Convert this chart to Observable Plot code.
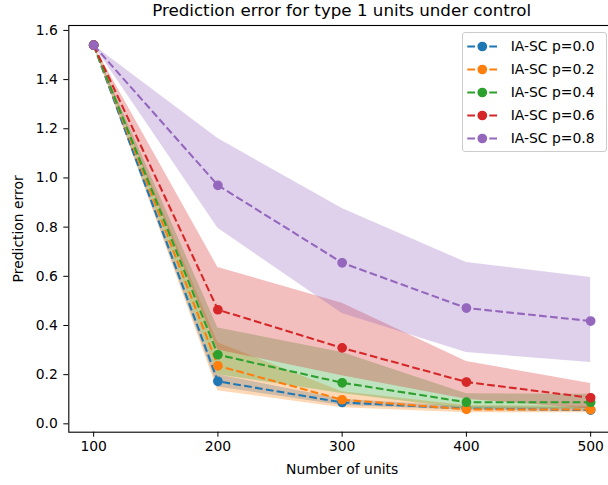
<!DOCTYPE html>
<html>
<head>
<meta charset="utf-8">
<script src="https://cdn.jsdelivr.net/npm/d3@7"></script>
<script src="https://cdn.jsdelivr.net/npm/@observablehq/plot@0.6"></script>
<style>
  html, body { margin: 0; padding: 0; background: #fff; }
  body { width: 608px; height: 485px; overflow: hidden; position: relative; font-family: "DejaVu Sans", sans-serif; color: #000; }
  #title { box-sizing: border-box; width: 608px; height: 20px; padding-left: 75.4px; text-align: center; font-size: 16.7px; line-height: 21px; white-space: nowrap; }
  #legend { position: absolute; left: 461.7px; top: 31.7px; width: 145px; height: 120px; box-sizing: border-box; border: 1px solid #cccccc; border-radius: 3px; background: rgba(255,255,255,0.8); }
  .lrow { position: absolute; left: 0; height: 23px; width: 145px; }
  .lrow svg { position: absolute; left: 0; top: 0; }
  .lrow span { position: absolute; left: 48px; top: 0; line-height: 23px; font-size: 13.9px; white-space: nowrap; }
</style>
</head>
<body>
<div id="title">Prediction error for type 1 units under control</div>
<div id="chart"></div>
<div id="legend"></div>
<script>
// ---- data ----
const units = [100, 200, 300, 400, 500];
const xTicks = [100, 200, 300, 400, 500];
const yTicks = [0.0, 0.2, 0.4, 0.6, 0.8, 1.0, 1.2, 1.4, 1.6];
const seriesLabels = ["IA-SC p=0.0", "IA-SC p=0.2", "IA-SC p=0.4", "IA-SC p=0.6", "IA-SC p=0.8"];
const seriesColors = ["#1f77b4", "#ff7f0e", "#2ca02c", "#d62728", "#9467bd"];

const meanP00 = [1.54, 0.173, 0.087, 0.062, 0.056];
const meanP02 = [1.54, 0.236, 0.098, 0.059, 0.058];
const meanP04 = [1.54, 0.281, 0.167, 0.088, 0.088];
const meanP06 = [1.54, 0.464, 0.309, 0.170, 0.106];
const meanP08 = [1.54, 0.970, 0.655, 0.471, 0.418];

const loP00 = [1.54, 0.150, 0.075, 0.055, 0.050];
const hiP00 = [1.54, 0.200, 0.100, 0.070, 0.065];
const loP02 = [1.54, 0.135, 0.065, 0.045, 0.045];
const hiP02 = [1.54, 0.330, 0.130, 0.075, 0.072];
const loP04 = [1.54, 0.200, 0.123, 0.060, 0.060];
const hiP04 = [1.54, 0.390, 0.290, 0.122, 0.120];
const loP06 = [1.54, 0.300, 0.196, 0.100, 0.060];
const hiP06 = [1.54, 0.636, 0.490, 0.254, 0.164];
const loP08 = [1.54, 0.795, 0.449, 0.290, 0.249];
const hiP08 = [1.54, 1.160, 0.876, 0.656, 0.595];

const means = [meanP00, meanP02, meanP04, meanP06, meanP08];
const lows = [loP00, loP02, loP04, loP06, loP08];
const highs = [hiP00, hiP02, hiP04, hiP06, hiP08];

const rows = seriesLabels.flatMap((s, i) => units.map((u, j) => ({
  series: s, units: u, mean: means[i][j], lo: lows[i][j], hi: highs[i][j]
})));

const dash = "7.7,3.3";
const marks = [];
seriesLabels.forEach(s => {
  const d = rows.filter(r => r.series === s);
  marks.push(Plot.areaY(d, {x: "units", y1: "lo", y2: "hi", fill: "series", fillOpacity: 0.3, curve: "linear"}));
});
seriesLabels.forEach(s => {
  const d = rows.filter(r => r.series === s);
  marks.push(Plot.line(d, {x: "units", y: "mean", stroke: "series", strokeWidth: 2.08, strokeDasharray: dash, strokeLinecap: "butt", strokeLinejoin: "round", curve: "linear"}));
  marks.push(Plot.dot(d, {x: "units", y: "mean", fill: "series", stroke: "series", strokeWidth: 1.39, r: 4.17}));
});
marks.push(Plot.frame({stroke: "black", strokeWidth: 1.1}));

const chart = Plot.plot({
  width: 608,
  height: 465,
  marginTop: 5,
  marginBottom: 53.3,
  marginLeft: 68.3,
  marginRight: -7,
  style: {fontFamily: "DejaVu Sans, sans-serif", fontSize: "13.9px", background: "white", color: "black", overflow: "visible"},
  color: {domain: seriesLabels, range: seriesColors},
  x: {domain: [80, 520], ticks: xTicks, tickFormat: "d", tickSize: 5, tickPadding: 4, label: "Number of units", labelAnchor: "center", labelArrow: "none", labelOffset: 42},
  y: {domain: [-0.034, 1.62], ticks: yTicks, tickFormat: ".1f", tickSize: 5, tickPadding: 6, label: "Prediction error", labelAnchor: "center", labelArrow: "none", labelOffset: 56},
  marks
});
document.getElementById("chart").appendChild(chart);

// ---- legend ----
const legend = d3.select("#legend");
seriesLabels.forEach((s, i) => {
  const row = legend.append("div").attr("class", "lrow").style("top", (2.5 + i * 22.9) + "px");
  const svg = row.append("svg").attr("width", 40).attr("height", 23);
  svg.append("line").attr("x1", 4.3).attr("x2", 35).attr("y1", 11.5).attr("y2", 11.5)
    .attr("stroke", seriesColors[i]).attr("stroke-width", 2.08).attr("stroke-dasharray", dash);
  svg.append("circle").attr("cx", 19.3).attr("cy", 11.5).attr("r", 4.17)
    .attr("fill", seriesColors[i]).attr("stroke", seriesColors[i]).attr("stroke-width", 1.39);
  row.append("span").text(s);
});
</script>
</body>
</html>
